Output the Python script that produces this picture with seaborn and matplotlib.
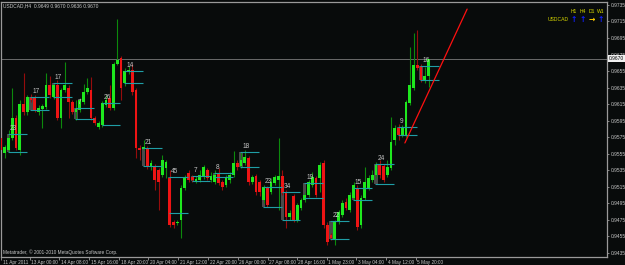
import matplotlib
matplotlib.use("Agg")
import matplotlib.pyplot as plt
import matplotlib.transforms as mtransforms
import numpy as np
import seaborn as sns

# ---------------- data ----------------
opens = [0.9574, 0.9556, 0.9560, 0.9574, 0.9598, 0.9560, 0.9615, 0.9606, 0.9624, 0.9624,
         0.9606, 0.9609, 0.9612, 0.9638, 0.9624, 0.9638, 0.9598, 0.9632, 0.9635, 0.9618,
         0.9606, 0.9608, 0.9618, 0.9630, 0.9632, 0.9598, 0.9587, 0.9590, 0.9614, 0.9622,
         0.9610, 0.9664, 0.9671, 0.9641, 0.9654, 0.9656, 0.9632, 0.9562, 0.9561, 0.9562,
         0.9539, 0.9540, 0.9535, 0.9529, 0.9538, 0.9526, 0.9472, 0.9471, 0.9475, 0.9514,
         0.9532, 0.9527, 0.9522, 0.9523, 0.9527, 0.9535, 0.9523, 0.9521, 0.9531, 0.9521,
         0.9517, 0.9523, 0.9529, 0.9544, 0.9540, 0.9544, 0.9550, 0.9521, 0.9528, 0.9521,
         0.9499, 0.9514, 0.9509, 0.9520, 0.9523, 0.9528, 0.9507, 0.9478, 0.9504, 0.9475,
         0.9489, 0.9499, 0.9505, 0.9517, 0.9526, 0.9526, 0.9544, 0.9469, 0.9457, 0.9451,
         0.9472, 0.9481, 0.9497, 0.9487, 0.9501, 0.9514, 0.9469, 0.9501, 0.9514, 0.9523,
         0.9529, 0.9541, 0.9540, 0.9529, 0.9538, 0.9572, 0.9586, 0.9578, 0.9578, 0.9616,
         0.9635, 0.9662, 0.9661, 0.9644, 0.9649]
highs = [0.9581, 0.9566, 0.9584, 0.9635, 0.9602, 0.9620, 0.9653, 0.9626, 0.9627, 0.9626,
         0.9614, 0.9615, 0.9653, 0.9649, 0.9639, 0.9644, 0.9635, 0.9666, 0.9638, 0.9620,
         0.9620, 0.9622, 0.9639, 0.9647, 0.9648, 0.9601, 0.9595, 0.9619, 0.9626, 0.9638,
         0.9666, 0.9718, 0.9673, 0.9659, 0.9661, 0.9664, 0.9635, 0.9566, 0.9572, 0.9564,
         0.9547, 0.9543, 0.9538, 0.9553, 0.9547, 0.9535, 0.9475, 0.9475, 0.9517, 0.9529,
         0.9535, 0.9529, 0.9528, 0.9535, 0.9541, 0.9538, 0.9533, 0.9535, 0.9538, 0.9523,
         0.9529, 0.9533, 0.9558, 0.9547, 0.9557, 0.9560, 0.9552, 0.9529, 0.9531, 0.9523,
         0.9517, 0.9516, 0.9526, 0.9529, 0.9574, 0.9535, 0.9511, 0.9487, 0.9506, 0.9495,
         0.9501, 0.9509, 0.9523, 0.9533, 0.9528, 0.9545, 0.9547, 0.9472, 0.9459, 0.9475,
         0.9487, 0.9499, 0.9501, 0.9509, 0.9521, 0.9517, 0.9505, 0.9539, 0.9529, 0.9535,
         0.9545, 0.9547, 0.9543, 0.9547, 0.9599, 0.9590, 0.9591, 0.9590, 0.9620, 0.9684,
         0.9701, 0.9705, 0.9664, 0.9660, 0.9670]
lows = [0.9553, 0.9550, 0.9557, 0.9572, 0.9560, 0.9553, 0.9602, 0.9602, 0.9618, 0.9606,
        0.9602, 0.9586, 0.9609, 0.9622, 0.9621, 0.9596, 0.9586, 0.9630, 0.9598, 0.9603,
        0.9596, 0.9606, 0.9615, 0.9627, 0.9596, 0.9590, 0.9585, 0.9587, 0.9612, 0.9608,
        0.9608, 0.9662, 0.9620, 0.9637, 0.9651, 0.9626, 0.9550, 0.9547, 0.9560, 0.9537,
        0.9535, 0.9511, 0.9487, 0.9527, 0.9526, 0.9466, 0.9465, 0.9469, 0.9453, 0.9511,
        0.9521, 0.9521, 0.9520, 0.9521, 0.9524, 0.9523, 0.9521, 0.9518, 0.9517, 0.9511,
        0.9515, 0.9520, 0.9527, 0.9535, 0.9538, 0.9541, 0.9517, 0.9518, 0.9505, 0.9504,
        0.9495, 0.9491, 0.9506, 0.9517, 0.9487, 0.9505, 0.9465, 0.9475, 0.9472, 0.9472,
        0.9487, 0.9497, 0.9503, 0.9515, 0.9503, 0.9509, 0.9465, 0.9445, 0.9451, 0.9445,
        0.9470, 0.9478, 0.9487, 0.9485, 0.9499, 0.9463, 0.9465, 0.9499, 0.9511, 0.9521,
        0.9526, 0.9526, 0.9521, 0.9527, 0.9535, 0.9566, 0.9572, 0.9575, 0.9575, 0.9614,
        0.9632, 0.9656, 0.9642, 0.9641, 0.9636]
closes = [0.9560, 0.9563, 0.9574, 0.9598, 0.9562, 0.9615, 0.9606, 0.9624, 0.9620, 0.9608,
          0.9610, 0.9613, 0.9638, 0.9626, 0.9638, 0.9598, 0.9632, 0.9638, 0.9618, 0.9606,
          0.9609, 0.9620, 0.9630, 0.9635, 0.9598, 0.9592, 0.9592, 0.9616, 0.9620, 0.9610,
          0.9664, 0.9668, 0.9635, 0.9655, 0.9656, 0.9630, 0.9562, 0.9560, 0.9563, 0.9539,
          0.9544, 0.9523, 0.9521, 0.9547, 0.9545, 0.9469, 0.9469, 0.9472, 0.9514, 0.9526,
          0.9523, 0.9523, 0.9524, 0.9529, 0.9539, 0.9526, 0.9528, 0.9529, 0.9520, 0.9515,
          0.9526, 0.9529, 0.9544, 0.9539, 0.9547, 0.9551, 0.9521, 0.9527, 0.9509, 0.9509,
          0.9515, 0.9493, 0.9521, 0.9527, 0.9528, 0.9507, 0.9478, 0.9483, 0.9475, 0.9493,
          0.9499, 0.9505, 0.9521, 0.9527, 0.9505, 0.9541, 0.9469, 0.9448, 0.9453, 0.9472,
          0.9485, 0.9495, 0.9489, 0.9505, 0.9517, 0.9466, 0.9501, 0.9521, 0.9526, 0.9529,
          0.9541, 0.9529, 0.9523, 0.9539, 0.9569, 0.9586, 0.9578, 0.9586, 0.9618, 0.9638,
          0.9662, 0.9659, 0.9644, 0.9649, 0.9670]

box_labels = ["23", "17", "17", "7", "26", "14", "21", "45", "7", "8",
              "18", "23", "34", "19", "22", "15", "24", "9", "16"]
box_start = [2, 8, 14, 20, 27, 33, 38, 45, 51, 57, 64, 70, 75, 81, 88, 94, 100, 106, 112]
box_top = [0.9579, 0.9624, 0.9641, 0.9610, 0.9616, 0.9655, 0.9562, 0.9527, 0.9528, 0.9532,
           0.9557, 0.9515, 0.9509, 0.9520, 0.9474, 0.9514, 0.9543, 0.9587, 0.9661]
box_bottom = [0.9557, 0.9608, 0.9624, 0.9597, 0.9590, 0.9641, 0.9540, 0.9483, 0.9522, 0.9527,
              0.9539, 0.9491, 0.9475, 0.9501, 0.9452, 0.9499, 0.9518, 0.9578, 0.9644]

price_ticks = [0.9735, 0.9715, 0.9695, 0.9675, 0.9655, 0.9635, 0.9615, 0.9595,
               0.9575, 0.9555, 0.9535, 0.9515, 0.9495, 0.9475, 0.9455, 0.9435]
time_labels = ["11 Apr 2011", "13 Apr 00:00", "14 Apr 08:00", "15 Apr 16:00", "18 Apr 20:00",
               "20 Apr 04:00", "21 Apr 12:00", "22 Apr 20:00", "26 Apr 00:00", "27 Apr 08:00",
               "28 Apr 16:00", "1 May 23:00", "3 May 04:00", "4 May 12:00", "5 May 20:00"]
time_pos = [0.13, 7.6, 15.55, 23.47, 31.47, 39.33, 47.28, 55.2, 63.12, 71.07,
            78.93, 86.8, 94.72, 102.67, 110.59]

trend_x = [107.7, 124.3]
trend_y = [0.9568, 0.9730]
last_price = 0.9670
title_text = "USDCAD,H4  0.9649 0.9670 0.9636 0.9670"
copyright_text = "Metatrader, \u00a9 2001-2010 MetaQuotes Software Corp."
tf_labels = ["H1", "H4", "D1", "W1"]
tf_dirs = ["up", "up", "flat", "up"]

# ---------------- style ----------------
BG = "#080b0b"
sns.set_style("dark", {"axes.facecolor": BG, "figure.facecolor": BG})
plt.rcParams["font.family"] = ["Liberation Sans", "DejaVu Sans"]

W, H = 625, 265
fig = plt.figure(figsize=(W / 100, H / 100), dpi=100)
fig.patch.set_facecolor(BG)
L, R, T, B = 1.5, 607, 1.5, 257
ax = fig.add_axes([L / W, 1 - B / H, (R - L) / W, (B - T) / H])
ax.set_facecolor(BG)

idx = np.arange(len(opens))
o = np.array(opens); c = np.array(closes)
hi = np.array(highs); lo = np.array(lows)
bull = c >= o

# boxes (behind candles)
for s, t, b in zip(box_start, box_top, box_bottom):
    ax.add_patch(plt.Rectangle((s - 0.45, b), 0.9, t - b, facecolor="#4a4a4a",
                               edgecolor="none", zorder=1))
ax.hlines(box_top, np.array(box_start) - 0.2, np.array(box_start) + 4.8,
          colors="#1f9ea6", lw=0.8, zorder=4)
ax.hlines(box_bottom, np.array(box_start) - 0.2, np.array(box_start) + 4.8,
          colors="#1f9ea6", lw=0.8, zorder=4)
for lab, s, t in zip(box_labels, box_start, box_top):
    ax.annotate(lab, (s, t), xytext=(1.0, 1.5), textcoords="offset points",
                fontsize=4.7, color="#c4c4c4", ha="left", va="bottom", zorder=5)

# candles
wick_cols = np.where(bull, "#0c8a0c", "#960c0c")
ax.vlines(idx, lo, hi, colors=wick_cols, lw=0.8, zorder=2)
body_h = np.maximum(np.abs(c - o), 0.00009)
body_b = np.minimum(o, c)
ax.bar(idx, body_h, bottom=body_b, width=0.72,
       color=np.where(bull, "#1ee81e", "#ee1414"), linewidth=0, zorder=3)

# last price line and trend line
ax.axhline(last_price, color="#6a6a6a", lw=0.7, zorder=1.5)
sns.lineplot(x=trend_x, y=trend_y, ax=ax, color="#ff1010", lw=0.9, zorder=6)

ax.set_xlim(0.13, (R - 1) / 3.75)
ax.set_ylim(0.94300, 0.97392)
ax.set_xlabel(""); ax.set_ylabel("")

# axes styling
for sp in ax.spines.values():
    sp.set_visible(True)
    sp.set_color("#9a9a9a")
    sp.set_linewidth(0.9)
ax.grid(False)
ax.yaxis.tick_right()
ax.set_yticks(price_ticks)
ax.set_yticklabels([f"{p:.4f}" for p in price_ticks])
ax.tick_params(axis="y", which="both", right=True, left=False, length=1.6, width=0.6,
               color="#9a9a9a", pad=1.2, labelsize=3.5, labelcolor="#c8c8c8")
ax.set_xticks(time_pos)
ax.set_xticklabels(time_labels)
ax.tick_params(axis="x", bottom=True, length=1.8, width=0.6, color="#9a9a9a",
               pad=0.4, labelsize=3.4, labelcolor="#c8c8c8")
off = mtransforms.ScaledTranslation(1.5 / 100, 0, fig.dpi_scale_trans)
for lbl in ax.get_xticklabels():
    lbl.set_horizontalalignment("left")
    lbl.set_transform(lbl.get_transform() + off)

# last price marker on axis
btr = mtransforms.blended_transform_factory(ax.transAxes, ax.transData)
ax.text(1.003, last_price, f"{last_price:.4f}", transform=btr, fontsize=3.5,
        color="#000000", ha="left", va="center", clip_on=False, zorder=10,
        bbox=dict(facecolor="#f0f0f0", edgecolor="none", pad=0.8))

# texts
fig.text(3 / W, 1 - 5.5 / H, title_text, fontsize=3.5, color="#c8c8c8",
         ha="left", va="center")
fig.text(3 / W, 1 - 252.5 / H, copyright_text, fontsize=3.4, color="#c8c8c8",
         ha="left", va="center")
tf_x = [573.5, 582.5, 591.5, 600.5]
for lab, xx, d in zip(tf_labels, tf_x, tf_dirs):
    fig.text(xx / W, 1 - 11.7 / H, lab, fontsize=3.6, color="#d8d800",
             ha="center", va="center")
    if d == "up":
        fig.text(xx / W, 1 - 19.3 / H, "\u2191", fontsize=5.5, color="#1020ff",
                 ha="center", va="center", fontweight="bold", family="DejaVu Sans")
    else:
        fig.text(xx / W, 1 - 19.3 / H, "\u2192", fontsize=5.5, color="#ffcc00",
                 ha="center", va="center", fontweight="bold", family="DejaVu Sans")
fig.text(558.5 / W, 1 - 19.3 / H, "USDCAD", fontsize=3.6, color="#d8d800",
         ha="center", va="center")

fig.savefig("out.png", dpi=100, facecolor=BG)
